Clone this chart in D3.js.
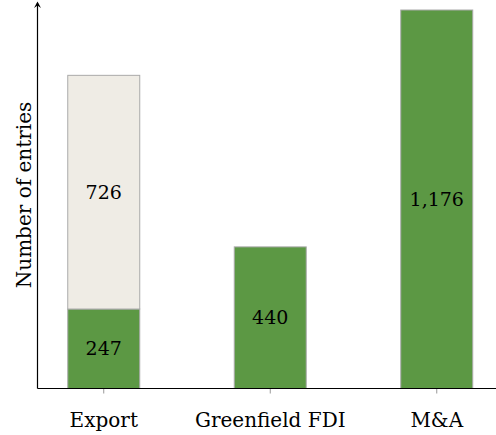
<!DOCTYPE html>
<html>
<head>
<meta charset="utf-8">
<script src="https://cdn.jsdelivr.net/npm/d3@7"></script>
<style>
  body { margin: 0; background: #fff; }
  text { font-family: "DejaVu Serif", "Liberation Serif", serif; }
</style>
</head>
<body>
<div id="chart"></div>
<script>
// chart data
var categories = ["Export", "Greenfield FDI", "M&A"];
var lowerValues = [247, 440, 1176];
var upperValues = [726, 0, 0];
var yLabel = "Number of entries";

var w = 496, h = 435;
var x0 = 37.5, baseY = 388.5, topY = 10;

var svg = d3.select("#chart").append("svg").attr("width", w).attr("height", h);

var x = d3.scaleBand()
    .domain(categories)
    .range([-15.5, 556])
    .paddingInner(0.5676)
    .paddingOuter(0.5);

var y = d3.scaleLinear()
    .domain([0, 1176])
    .range([baseY, topY]);

var rows = categories.map(function (c, i) {
    return { cat: c, low: lowerValues[i], up: upperValues[i] };
});

var fmt = d3.format(",");

// green bottom segments
svg.append("g").selectAll("rect")
    .data(rows).enter().append("rect")
    .attr("x", function (d) { return x(d.cat); })
    .attr("y", function (d) { return y(d.low); })
    .attr("width", x.bandwidth())
    .attr("height", function (d) { return y(0) - y(d.low); })
    .style("fill", "#5c9844")
    .style("stroke", "#aaaaaa")
    .style("stroke-width", 1);

// beige stacked segments
svg.append("g").selectAll("rect")
    .data(rows.filter(function (d) { return d.up > 0; })).enter().append("rect")
    .attr("x", function (d) { return x(d.cat); })
    .attr("y", function (d) { return y(d.low + d.up); })
    .attr("width", x.bandwidth())
    .attr("height", function (d) { return y(d.low) - y(d.low + d.up); })
    .style("fill", "#efece5")
    .style("stroke", "#aaaaaa")
    .style("stroke-width", 1);

// value labels
svg.append("g").selectAll("text")
    .data(rows).enter().append("text")
    .attr("x", function (d) { return x(d.cat) + x.bandwidth() / 2; })
    .attr("y", function (d) { return (y(0) + y(d.low)) / 2; })
    .attr("dy", "0.35em")
    .attr("text-anchor", "middle")
    .style("font-size", "19px")
    .text(function (d) { return fmt(d.low); });

svg.append("g").selectAll("text")
    .data(rows.filter(function (d) { return d.up > 0; })).enter().append("text")
    .attr("x", function (d) { return x(d.cat) + x.bandwidth() / 2; })
    .attr("y", function (d) { return (y(d.low) + y(d.low + d.up)) / 2; })
    .attr("dy", "0.35em")
    .attr("text-anchor", "middle")
    .style("font-size", "19px")
    .text(function (d) { return fmt(d.up); });

// x axis
var xAxis = svg.append("g")
    .attr("transform", "translate(0," + baseY + ")")
    .call(d3.axisBottom(x).tickSize(5).tickPadding(0));
xAxis.select(".domain").remove();
xAxis.selectAll(".tick line").attr("stroke", "#999");
xAxis.selectAll(".tick text")
    .attr("y", 38.5)
    .attr("dy", null)
    .style("font-size", "20px")
    .style("font-family", "'DejaVu Serif', serif")
    .attr("fill", "#000");

svg.append("line")
    .attr("x1", x0).attr("x2", w)
    .attr("y1", baseY).attr("y2", baseY)
    .attr("stroke", "#000").attr("stroke-width", 1.2);

// y axis with arrow
svg.append("line")
    .attr("x1", x0).attr("x2", x0)
    .attr("y1", baseY).attr("y2", 3)
    .attr("stroke", "#000").attr("stroke-width", 1.2);
svg.append("path")
    .attr("d", "M" + (x0 - 3.5) + ",8 L" + x0 + ",1.5 L" + (x0 + 3.5) + ",8 L" + x0 + ",5.5 Z")
    .attr("fill", "#000");

svg.append("text")
    .attr("transform", "translate(31,195) rotate(-90)")
    .attr("text-anchor", "middle")
    .style("font-size", "20px")
    .text(yLabel);
</script>
</body>
</html>
